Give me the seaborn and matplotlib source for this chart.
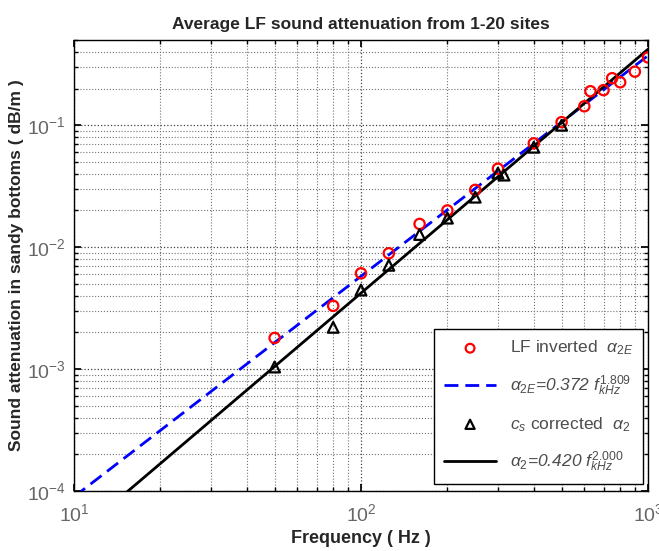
import numpy as np
import pandas as pd
import matplotlib
matplotlib.use("Agg")
import matplotlib.pyplot as plt
import seaborn as sns

# Inverted LF attenuation (alpha_2E), dB/m
freq_inverted = [50, 80, 100, 125, 160, 200, 250, 300, 400, 500,
                 600, 630, 700, 750, 800, 900, 1000]
alpha_2e = [1.8e-3, 3.3e-3, 6.1e-3, 8.9e-3, 1.55e-2, 2.0e-2, 2.95e-2, 4.4e-2,
            7.1e-2, 0.106, 0.143, 0.19, 0.194, 0.243, 0.225, 0.275, 0.36]

# Sound-speed corrected attenuation (alpha_2), dB/m
freq_corrected = [50, 80, 100, 125, 160, 200, 250, 300, 315, 400, 500]
alpha_2 = [1.04e-3, 2.2e-3, 4.45e-3, 7.1e-3, 1.27e-2, 1.73e-2, 2.57e-2,
           4.05e-2, 3.9e-2, 6.6e-2, 0.10]

# Power-law fits: alpha = k * f_kHz ** n
fit_2e = (0.372, 1.809)
fit_2 = (0.420, 2.000)
fit_freq = [10, 1000]

sns.set_theme(style="ticks")
plt.rcParams["font.family"] = ["Liberation Sans", "DejaVu Sans"]
plt.rcParams["mathtext.fontset"] = "custom"
plt.rcParams["mathtext.rm"] = "Liberation Sans"
plt.rcParams["mathtext.it"] = "Liberation Sans:italic"

fig = plt.figure(figsize=(6.59, 5.51), dpi=100)
ax = fig.add_axes([0.1123, 0.1089, 0.871, 0.8185])

ff = np.array(fit_freq, dtype=float)
df_fit = pd.DataFrame({
    "f": np.concatenate([ff, ff]),
    "a": np.concatenate([fit_2e[0] * (ff / 1000) ** fit_2e[1],
                         fit_2[0] * (ff / 1000) ** fit_2[1]]),
    "fit": ["2e"] * len(ff) + ["2"] * len(ff),
})

ax.set_xscale("log")
ax.set_yscale("log")

sns.scatterplot(x=freq_inverted, y=alpha_2e, ax=ax, marker="o", s=55,
                facecolor="none", edgecolor="red", linewidth=1.6,
                label=r"LF inverted  $\alpha_{2E}$", zorder=4)
sns.lineplot(data=df_fit[df_fit.fit == "2e"], x="f", y="a", ax=ax,
             color="blue", linestyle=(0, (5, 2.5)), linewidth=2,
             label=r"$\alpha_{2E}$=0.372 $f_{kHz}^{1.809}$", zorder=3)
sns.scatterplot(x=freq_corrected, y=alpha_2, ax=ax, marker="^", s=60,
                facecolor="none", edgecolor="black", linewidth=1.6,
                label=r"$c_s$ corrected  $\alpha_2$", zorder=4)
sns.lineplot(data=df_fit[df_fit.fit == "2"], x="f", y="a", ax=ax,
             color="black", linewidth=2,
             label=r"$\alpha_2$=0.420 $f_{kHz}^{2.000}$", zorder=3)

ax.set_xlim(10, 1000)
ax.set_ylim(1e-4, 0.5)

ax.grid(which="major", linestyle=":", color="0.25", linewidth=0.9)
ax.grid(which="minor", linestyle=":", color="0.45", linewidth=0.8)
ax.tick_params(which="both", direction="in", top=True, right=True,
               colors="black", labelcolor="0.4", labelsize=14)
ax.tick_params(which="major", length=5)
ax.tick_params(which="minor", length=3)
ax.tick_params(axis="x", which="major", pad=9)
ax.tick_params(axis="y", which="major", pad=6)
for sp in ax.spines.values():
    sp.set_color("black")
    sp.set_linewidth(1.0)

ax.set_title("Average LF sound attenuation from 1-20 sites",
             fontsize=12.5, fontweight="bold", pad=8)
ax.set_xlabel("Frequency ( Hz )", fontsize=13, fontweight="bold", labelpad=3)
ax.set_ylabel("Sound attenuation in sandy bottoms ( dB/m )",
              fontsize=12.5, fontweight="bold", labelpad=2)

leg = ax.legend(loc="lower right", bbox_to_anchor=(0.9913, 0.0155),
                borderaxespad=0, fontsize=12.5, frameon=True, fancybox=False,
                framealpha=1, edgecolor="black", handlelength=3.0,
                labelspacing=0.95, borderpad=0.55, handletextpad=0.8,
                markerscale=0.85)
leg.get_frame().set_linewidth(1.0)
for i, t in enumerate(leg.get_texts()):
    t.set_color("0.3")
    if i in (1, 3):
        t.set_style("italic")

fig.savefig("out.png", dpi=100)
